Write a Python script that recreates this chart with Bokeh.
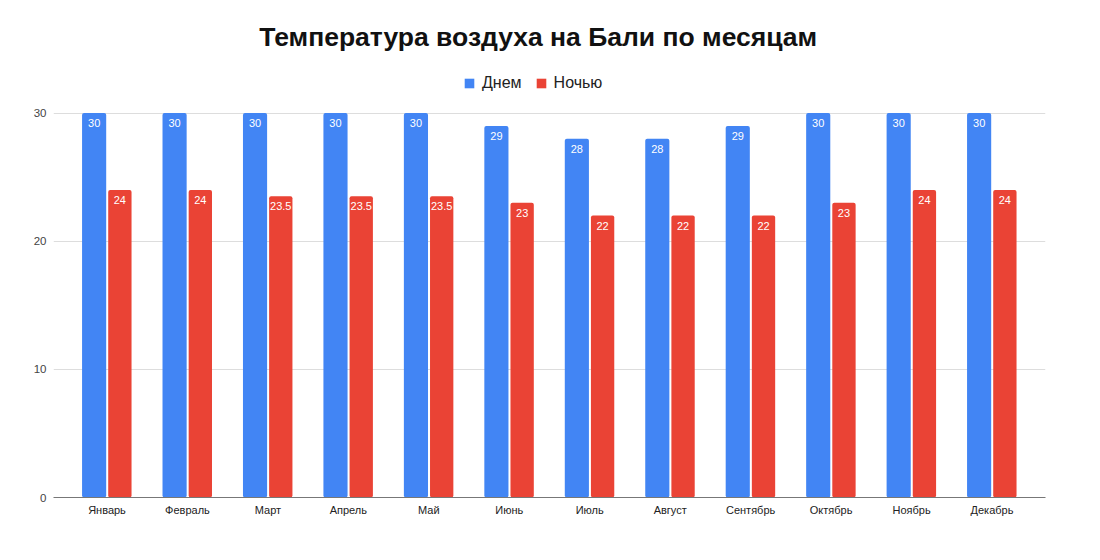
from bokeh.plotting import figure
from bokeh.models import ColumnDataSource, Legend, LegendItem, FactorRange, Label
from bokeh.transform import dodge
from bokeh.core.properties import value
from bokeh.embed import file_html
from bokeh.resources import INLINE

months = ["Январь", "Февраль", "Март", "Апрель", "Май", "Июнь", "Июль",
          "Август", "Сентябрь", "Октябрь", "Ноябрь", "Декабрь"]
day = [30, 30, 30, 30, 30, 29, 28, 28, 29, 30, 30, 30]
night = [24, 24, 23.5, 23.5, 23.5, 23, 22, 22, 22, 23, 24, 24]
series_names = ["Днем", "Ночью"]
y_ticks = [0, 10, 20, 30]
title_text = "Температура воздуха на Бали по месяцам"

BLUE = "#4285F4"
RED = "#EA4335"
FONT = "Liberation Sans"

def fmt(v):
    return str(int(v)) if float(v).is_integer() else str(v)

src = ColumnDataSource(dict(
    month=months, day=day, night=night,
    day_s=[fmt(v) for v in day], night_s=[fmt(v) for v in night],
))

x_range = FactorRange(factors=months, range_padding=0.165, range_padding_units="absolute")

p = figure(width=1084, height=544, x_range=x_range, y_range=(0, 38.16),
           output_backend="svg", toolbar_location=None,
           min_border_left=53, min_border_right=39, min_border_bottom=47,
           min_border_top=8)
p.title.visible = False
p.outline_line_color = None
p.background_fill_color = "white"

r1 = p.vbar(x=dodge("month", -0.16, range=p.x_range), top="day", width=0.3,
            source=src, fill_color=BLUE, line_color=None, border_radius=2)
r2 = p.vbar(x=dodge("month", 0.16, range=p.x_range), top="night", width=0.29,
            source=src, fill_color=RED, line_color=None, border_radius=2)

p.text(x=dodge("month", -0.16, range=p.x_range), y="day", text="day_s", source=src,
       text_align="center", text_baseline="top", y_offset=6,
       text_color="white", text_font=value(FONT), text_font_size="11px")
p.text(x=dodge("month", 0.16, range=p.x_range), y="night", text="night_s", source=src,
       text_align="center", text_baseline="top", y_offset=6,
       text_color="white", text_font=value(FONT), text_font_size="11px")

# axes
p.yaxis.ticker = y_ticks
p.yaxis.axis_line_color = None
p.yaxis.major_tick_line_color = None
p.yaxis.minor_tick_line_color = None
p.yaxis.major_label_standoff = 1
p.yaxis.major_label_text_font = FONT
p.yaxis.major_label_text_font_size = "11.5px"
p.yaxis.major_label_text_color = "#444444"

p.xaxis.axis_line_color = "#777777"
p.xaxis.axis_line_width = 1
p.xaxis.major_tick_line_color = None
p.xaxis.minor_tick_line_color = None
p.xaxis.major_label_standoff = 0
p.xaxis.major_label_text_font = FONT
p.xaxis.major_label_text_font_size = "11px"
p.xaxis.major_label_text_color = "#222222"

p.xgrid.grid_line_color = None
p.ygrid.grid_line_color = "#dddddd"
p.ygrid.ticker = y_ticks

legend = Legend(items=[LegendItem(label=series_names[0], renderers=[r1]),
                       LegendItem(label=series_names[1], renderers=[r2])],
                orientation="horizontal", location=(410, 405),
                label_text_font=FONT, label_text_font_size="16px",
                label_text_color="#222222",
                glyph_width=12, glyph_height=12, spacing=13,
                border_line_color=None, background_fill_alpha=0,
                margin=0, padding=4, label_standoff=7)
p.add_layout(legend, "center")

p.add_layout(Label(x=5.86, y=35.9, text=title_text, text_align="center",
                   text_baseline="middle", text_font=FONT,
                   text_font_size="26.5px", text_font_style="bold",
                   text_color="#111111"))

open("out.html", "w").write(file_html(p, INLINE))
